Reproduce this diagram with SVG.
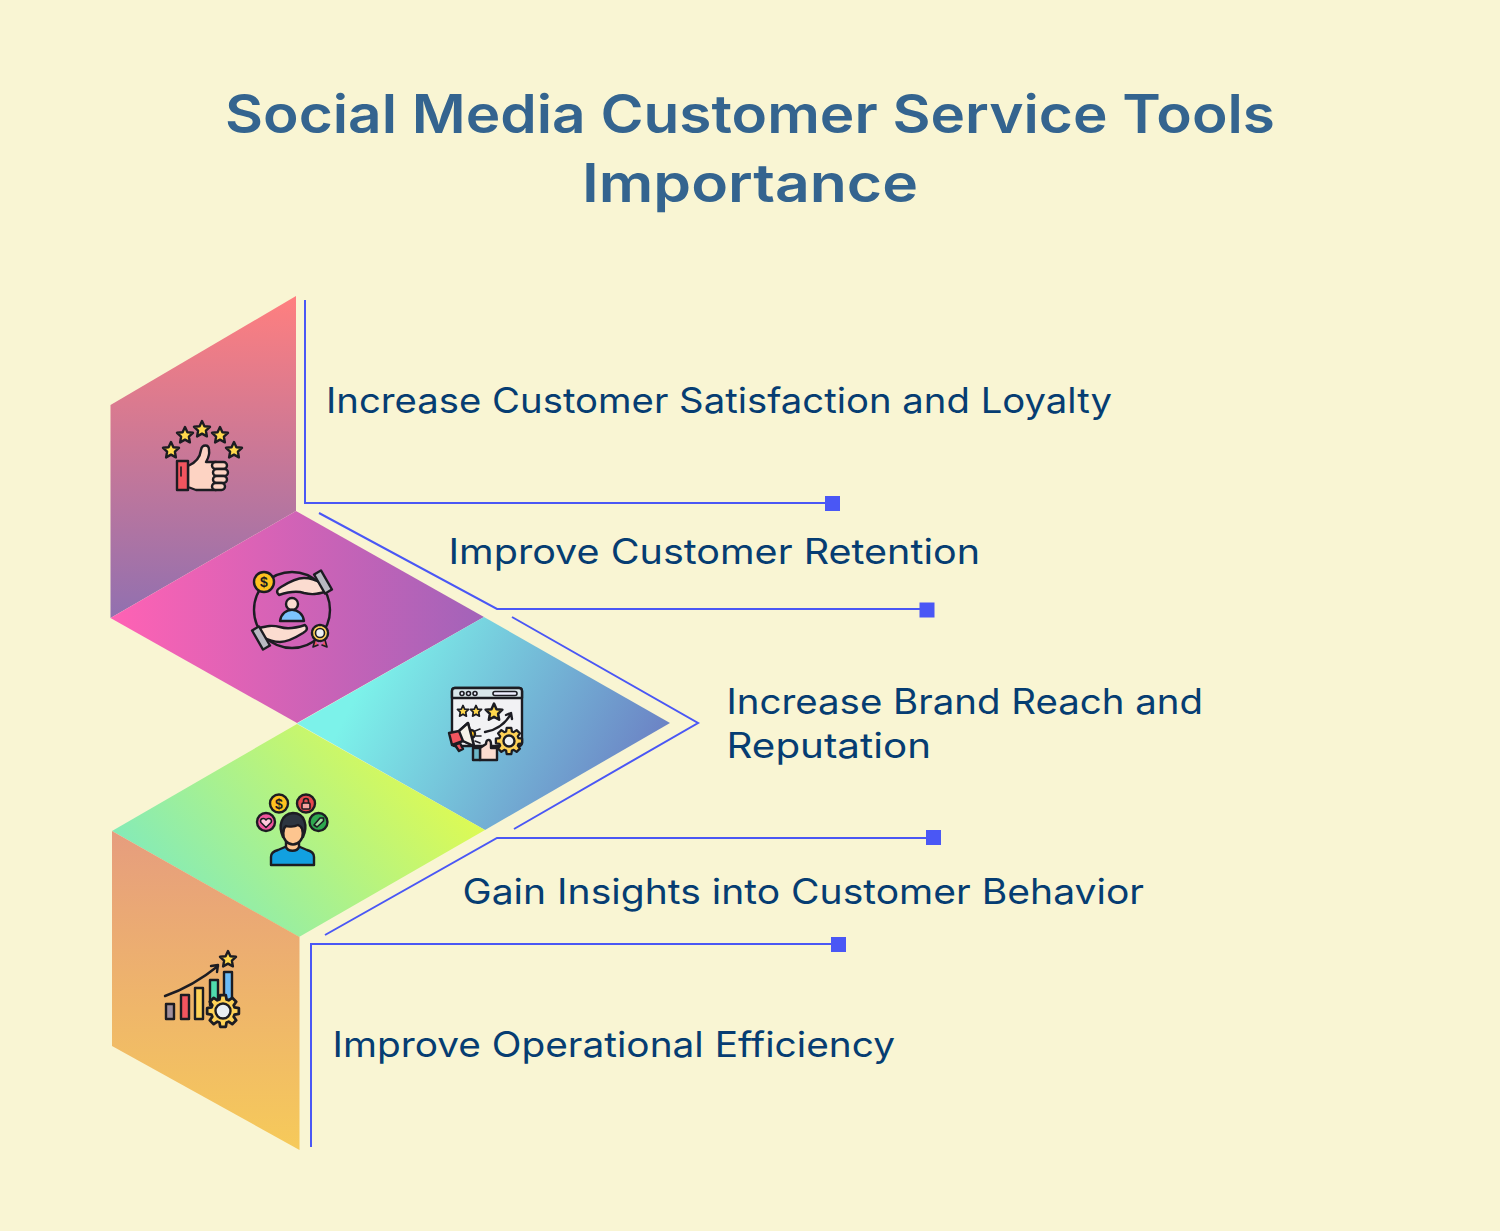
<svg xmlns="http://www.w3.org/2000/svg" width="1500" height="1231" viewBox="0 0 1500 1231">
<style>
.t{font-family:Inter,"Liberation Sans",sans-serif;font-weight:600;font-size:53px;fill:#34648f;text-anchor:middle}
.l{font-family:Inter,"Liberation Sans",sans-serif;font-weight:400;font-size:35px;fill:#063d72}
.d{font-family:"Liberation Sans",sans-serif;font-weight:700;font-size:14px;fill:#1c1c22;text-anchor:middle}
.c{fill:none;stroke:#4a57f5;stroke-width:2}
.k{fill:#4a57f5}
.o{stroke:#1c1c22;stroke-width:2.4;stroke-linejoin:round;stroke-linecap:round}
.h{stroke:#1c1c22;stroke-width:1.6;stroke-linejoin:round;stroke-linecap:round}
.n{fill:none}
</style>
<defs>
<linearGradient id="g1" x1="0" y1="0" x2="0" y2="1"><stop offset="0" stop-color="#ff7f7f"/><stop offset="1" stop-color="#9170b0"/></linearGradient>
<linearGradient id="g2" x1="0" y1="0" x2="1" y2="0"><stop offset="0" stop-color="#ff62b4"/><stop offset="1" stop-color="#a263b9"/></linearGradient>
<linearGradient id="g3" x1="0" y1="0.35" x2="1" y2="0.65"><stop offset="0.15" stop-color="#7cf2ea"/><stop offset="1" stop-color="#6b7dc3"/></linearGradient>
<linearGradient id="g4" x1="0" y1="0.75" x2="1" y2="0.25"><stop offset="0" stop-color="#7ae9c3"/><stop offset="1" stop-color="#e8fc48"/></linearGradient>
<linearGradient id="g5" x1="0" y1="0" x2="0" y2="1"><stop offset="0" stop-color="#e69d7e"/><stop offset="1" stop-color="#f6ca5a"/></linearGradient>
<path id="star" d="M0-8 2.4-2.7 8-2.2 3.9 1.700 4.9 7.4 0 4.6 -4.9 7.4 -3.9 1.700 -8-2.2 -2.4-2.7Z" fill="#ffd84d" class="o"/>
<path id="gear" class="o" fill="#ffd257" d="M10.04-3.07 13.79-2.43 13.79 2.43 10.04 3.07 9.27 4.93 11.47 8.03 8.03 11.47 4.93 9.27 3.07 10.04 2.43 13.79-2.43 13.79-3.07 10.04-4.93 9.27-8.03 11.47-11.47 8.03-9.27 4.93-10.04 3.07-13.79 2.43-13.79-2.43-10.04-3.07-9.27-4.93-11.47-8.03-8.03-11.47-4.93-9.27-3.07-10.04-2.43-13.79 2.43-13.79 3.07-10.04 4.93-9.27 8.03-11.47 11.47-8.03 9.27-4.93Z"/>
<path id="hand" class="o" fill="#fbdcd0" d="M279 595C275 591 278 589 281 587 289 582 296 578 304 578 311 578 316 580 321 583L325 592C317 594 312 595 304 593 298 591 288 592 279 595Z"/>
</defs>
<rect width="1500" height="1231" fill="#f9f5d3"/>
<text class="t" x="750" y="133" textLength="1050" lengthAdjust="spacingAndGlyphs">Social Media Customer Service Tools</text>
<text class="t" x="750" y="202" textLength="336" lengthAdjust="spacingAndGlyphs">Importance</text>
<g id="connectors">
<path class="c" d="M305 300V503H832"/>
<path class="c" d="M319 513 497 609H927"/>
<path class="c" d="M512 617 698 723 514 829"/>
<path class="c" d="M325 935 497 838H933"/>
<path class="c" d="M311 1147V944H838"/>
<rect class="k" x="825" y="496" width="15" height="15"/>
<rect class="k" x="919.5" y="602.5" width="15" height="15"/>
<rect class="k" x="926" y="830" width="15" height="15"/>
<rect class="k" x="831" y="937" width="15" height="15"/>
</g>
<g id="node1">
<path d="M296 296V511L110.500 618V405Z" fill="url(#g1)"/>
<use href="#star" x="171" y="450"/><use href="#star" x="185" y="435"/><use href="#star" x="202" y="429"/><use href="#star" x="220" y="435"/><use href="#star" x="234" y="450"/>
<path class="o" d="M188 466C195 463 200 458 201 450 202 444 209 444 209 450 210 456 207 460 206 462H216V490H196L188 487Z" fill="#fdd3c3"/>
<rect class="o" x="177" y="461" width="11" height="29" fill="#f2555f"/>
<path d="M181 467V476" class="h n"/>
<rect class="o" x="212" y="462" width="15" height="7" rx="3.5" fill="#fdd3c3"/>
<rect class="o" x="213" y="469" width="15" height="7" rx="3.5" fill="#fdd3c3"/>
<rect class="o" x="213" y="476" width="14" height="7" rx="3.5" fill="#fdd3c3"/>
<rect class="o" x="212" y="483" width="13" height="7" rx="3.5" fill="#fdd3c3"/>
<text class="l" x="326" y="413" textLength="786" lengthAdjust="spacingAndGlyphs">Increase Customer Satisfaction and Loyalty</text>
</g>
<g id="node2">
<path d="M296 511 484 617 297 723 110.500 618Z" fill="url(#g2)"/>
<circle class="o n" cx="292" cy="610" r="38"/>
<circle class="o" cx="264" cy="582" r="10" fill="#ffc21f"/>
<text class="d" x="264" y="587">$</text>
<use href="#hand"/>
<rect class="o" x="319" y="571" width="8" height="22" transform="rotate(-30 323 582)" fill="#b9b9c2"/>
<circle class="o" cx="292" cy="604" r="6" fill="#fbdcd0"/>
<path class="o" d="M280 621C282 606 302 606 304 621Z" fill="#7cc4ff"/>
<use href="#hand" transform="rotate(180 292 610)"/>
<rect class="o" x="257" y="627" width="8" height="22" transform="rotate(-30 261 638)" fill="#b9b9c2"/>
<path class="h" d="M315 640 313 647 318 645M325 640 327 647 322 645" fill="#f2555f"/>
<circle class="o" cx="320" cy="633" r="8" fill="#ffd257" stroke-dasharray="3 1.5"/>
<circle class="h" cx="320" cy="633" r="4.5" fill="#eef0f2"/>
<text class="l" x="448.500" y="564" textLength="531.500" lengthAdjust="spacingAndGlyphs">Improve Customer Retention</text>
</g>
<g id="node3">
<path d="M484 617 670 723 485 830 297 723.500Z" fill="url(#g3)"/>
<rect class="o" x="452" y="688" width="70" height="58" rx="3" fill="#f2f2f4"/>
<path class="o" d="M452 698V691Q452 688 455 688H519Q522 688 522 691V698Z" fill="#d9e6ea"/>
<circle class="h" cx="462" cy="693.500" r="2" fill="#eef"/><circle class="h" cx="468.500" cy="693.500" r="2" fill="#eef"/><circle class="h" cx="475" cy="693.500" r="2" fill="#eef"/>
<rect class="h" x="493" y="691.500" width="24" height="4" rx="2" fill="#eef"/>
<use href="#star" transform="translate(463 711) scale(.7)"/><use href="#star" transform="translate(476 711) scale(.7)"/><use href="#star" transform="translate(494 712) scale(1.05)"/>
<path class="o n" d="M485 732C497 730 505 724 511 714M506 715 511 713 512 719"/>
<path class="h n" d="M475 731 480 729M476 736H481M475 741 480 743"/>
<circle class="o" cx="471" cy="734" r="4" fill="#ffc21f"/>
<path class="o" d="M449 733 459 731 468 723 474 746 463 741 452 745Z" fill="#f2555f"/>
<path class="o" d="M455 745 459 751 463 749 460 743Z" fill="#f2555f"/>
<path class="o" d="M459 731 468 723 474 746 463 741Z" fill="#f7f3ea"/>
<use href="#gear" transform="translate(509 741) scale(.95)"/>
<circle class="o" cx="509" cy="741" r="5.500" fill="#eef0f2"/>
<path class="o" d="M480 748 486 744C486 739 491 738 491 744V748H497V760H480Z" fill="#fbdcd0"/>
<rect class="o" x="473" y="748" width="7" height="12" fill="#6cb7c8"/>
<text class="l" x="726.500" y="714" textLength="476.500" lengthAdjust="spacingAndGlyphs">Increase Brand Reach and</text>
<text class="l" x="726.500" y="758" textLength="204.500" lengthAdjust="spacingAndGlyphs">Reputation</text>
</g>
<g id="node4">
<path d="M297 724 485 830 299 937 112 831Z" fill="url(#g4)"/>
<circle class="o" cx="279" cy="803.500" r="9" fill="#ffc21f"/><text class="d" x="279" y="808.500">$</text>
<circle class="o" cx="306" cy="803.500" r="9" fill="#e5484d"/>
<rect class="h" x="302" y="803" width="8" height="6" rx="1" fill="#f5a3a0"/><path class="h n" d="M303.500 803V801A2.500 2.500 0 0 1 308.500 801V803"/>
<circle class="o" cx="266" cy="822" r="9" fill="#f0559d"/>
<path class="h" d="M266 827.500 261 822.500C259 819 264 817 266 820 268 817 273 819 271 822.500Z" fill="#ffc7dc"/>
<circle class="o" cx="318.500" cy="822" r="9" fill="#2ea84f"/>
<path class="h" d="M314 825 320 818 323.500 818 323.500 821 317 827Z" fill="#9fdb9e"/>
<path class="o" d="M271 865V857C271 853 274 851 278 850L285 847H300L307 850C311 851 314 853 314 857V865Z" fill="#12a0e0"/>
<path class="o" d="M286 841V847C288 852 297 852 299 847V841Z" fill="#fdc58f"/>
<ellipse class="o" cx="293" cy="833" rx="10" ry="11.500" fill="#fdc58f"/>
<path class="o" d="M283 837C278 826 281 814 293 813 305 813 308 826 303 837 303 831 303 827 298 825 294 827 288 827 286 826 283 828 283 832 283 837Z" fill="#2d3540"/>
<text class="l" x="462.500" y="904" textLength="681.500" lengthAdjust="spacingAndGlyphs">Gain Insights into Customer Behavior</text>
</g>
<g id="node5">
<path d="M112 831 299.500 937V1150L112 1046Z" fill="url(#g5)"/>
<rect class="o" x="166" y="1004" width="8" height="15" fill="#a08f9c"/>
<rect class="o" x="181" y="995" width="8" height="24" fill="#f2555f"/>
<rect class="o" x="195" y="988" width="8" height="31" fill="#ffd257"/>
<rect class="o" x="210" y="980" width="8" height="25" fill="#4fdcae"/>
<rect class="o" x="224" y="972" width="8" height="28" fill="#6cbcf7"/>
<path class="o n" d="M165 996C185 989 202 979 218 966M211 966 218 965 217 972"/>
<use href="#star" x="228" y="959"/>
<use href="#gear" transform="translate(223 1011) scale(1.15)"/>
<circle class="o" cx="223" cy="1011" r="7.500" fill="#e8edf2"/>
<text class="l" x="332.500" y="1057" textLength="562.500" lengthAdjust="spacingAndGlyphs">Improve Operational Efficiency</text>
</g>
</svg>
